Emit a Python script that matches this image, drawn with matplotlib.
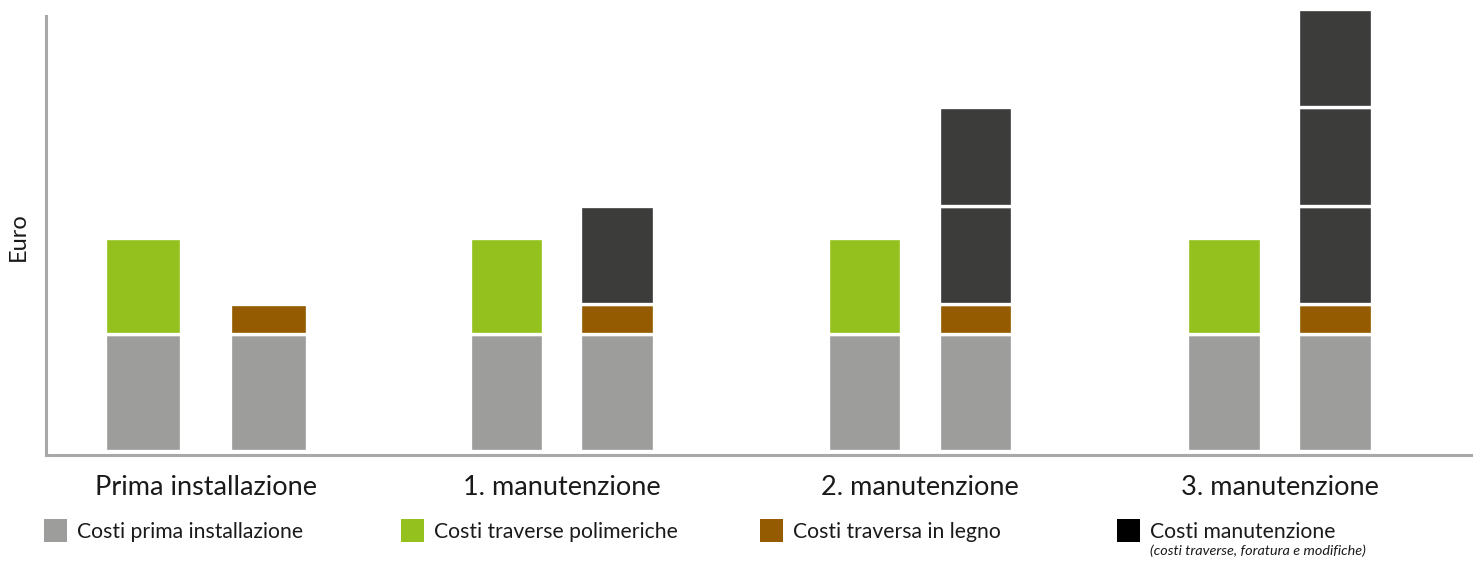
"""Costi traverse polimeriche vs traverse in legno, stacked bars."""

import matplotlib
matplotlib.use("Agg")
import matplotlib.pyplot as plt
from matplotlib.patches import Rectangle
from matplotlib.transforms import blended_transform_factory

# ── Data ──────────────────────────────────────────────────────────────────────
fasi = ["Prima installazione", "1. manutenzione", "2. manutenzione", "3. manutenzione"]
costo_installazione = [1.19, 1.19, 1.19, 1.19]
costo_polimeriche = [0.98, 0.98, 0.98, 0.98]
costo_legno = [0.31, 0.31, 0.31, 0.31]
n_manutenzioni = [0, 1, 2, 3]
costo_manutenzione = 1.005

legend_labels = [
    "Costi prima installazione",
    "Costi traverse polimeriche",
    "Costi traversa in legno",
    "Costi manutenzione",
]
legend_note = "(costi traverse, foratura e modifiche)"

# ── Style ─────────────────────────────────────────────────────────────────────
GRAY  = "#9d9d9c"
GREEN = "#95c11f"
BROWN = "#955b00"
DARK  = "#3c3c3b"
SPINE = "#a8a8a8"
TEXT  = "#1a1a1a"
FONT  = "Lato"

W, H = 1477, 562
group_pos = [0.0, 0.994, 1.996, 3.0]
offsets = [0.175, 0.155, 0.155, 0.155]
widths  = [0.213, 0.205, 0.205, 0.205]

plt.rcParams["font.family"] = [FONT, "DejaVu Sans"]

fig = plt.figure(figsize=(W / 100, H / 100), dpi=100)
fig.patch.set_facecolor("white")
ax = fig.add_axes([46 / W, 1 - 454.7 / H, (1471 - 46) / W, (454.7 - 16) / H])

bar_kw = dict(edgecolor="white", linewidth=2.4, clip_on=False)

for i, fase in enumerate(fasi):
    x_poly = group_pos[i] - offsets[i]
    x_wood = group_pos[i] + offsets[i]
    w = widths[i]

    # polymer sleepers bar
    ax.bar(x_poly, costo_installazione[i], w, color=GRAY, **bar_kw)
    ax.bar(x_poly, costo_polimeriche[i], w, bottom=costo_installazione[i],
           color=GREEN, **bar_kw)

    # wooden sleepers bar
    ax.bar(x_wood, costo_installazione[i], w, color=GRAY, **bar_kw)
    base = costo_installazione[i]
    ax.bar(x_wood, costo_legno[i], w, bottom=base, color=BROWN, **bar_kw)
    base += costo_legno[i]
    for _ in range(n_manutenzioni[i]):
        ax.bar(x_wood, costo_manutenzione, w, bottom=base, color=DARK, **bar_kw)
        base += costo_manutenzione

ax.set_xlim(-0.447, 3.535)
ax.set_ylim(-0.038, 4.44)
ax.set_xticks([])
ax.set_yticks([])
for side in ("top", "right"):
    ax.spines[side].set_visible(False)
for side in ("left", "bottom"):
    ax.spines[side].set_color(SPINE)
    ax.spines[side].set_linewidth(2.2)

fig.text(18 / W, 1 - 237 / H, "Euro", rotation=90, ha="center", va="center",
         fontsize=17, color=TEXT)

# group labels under the axis
trans = blended_transform_factory(ax.transData, fig.transFigure)
for i, fase in enumerate(fasi):
    ax.text(group_pos[i], 1 - 495 / H, fase, transform=trans, ha="center",
            va="baseline", fontsize=19.5, color=TEXT)

# ── Legend (manual, figure coordinates) ──────────────────────────────────────
legend_colors = [GRAY, GREEN, BROWN, "#000000"]
legend_x = [44, 401, 760, 1117]
sq = 22.7
for x0, col, lab in zip(legend_x, legend_colors, legend_labels):
    fig.add_artist(Rectangle((x0 / W, 1 - 541.7 / H), sq / W, sq / H,
                             transform=fig.transFigure, facecolor=col,
                             edgecolor="none"))
    fig.text((x0 + sq + 10) / W, 1 - 538 / H, lab, ha="left", va="baseline",
             fontsize=15.2, color=TEXT)

fig.text(1150 / W, 1 - 555 / H, legend_note, ha="left", va="baseline",
         fontsize=10.4, style="italic", color=TEXT)

fig.savefig("out.png", dpi=100, facecolor="white")
